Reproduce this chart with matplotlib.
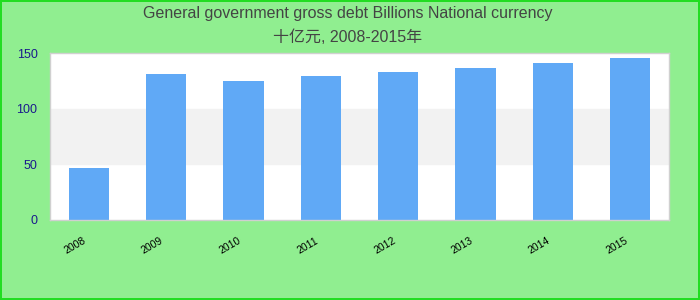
import matplotlib.pyplot as plt
from matplotlib.transforms import ScaledTranslation

years = ["2008", "2009", "2010", "2011", "2012", "2013", "2014", "2015"]
debt = [46.8, 131.4, 125.1, 129.6, 133.2, 136.8, 141.3, 145.8]
y_ticks = [0, 50, 100, 150]

title_line1 = "General government gross debt Billions National currency"
title_line2 = "十亿元, 2008-2015年"

fonts = ["Liberation Sans", "Noto Sans CJK SC", "DejaVu Sans"]

fig = plt.figure(figsize=(7, 3), dpi=100)
fig.patch.set_facecolor("#90ee90")
fig.patch.set_edgecolor("#22dd22")
fig.patch.set_linewidth(1.5)

ax = fig.add_axes([50 / 700, 80 / 300, 619 / 700, 166.7 / 300])
ax.set_facecolor("white")
ax.axhspan(50, 100, color="#f2f2f2", zorder=0)

x = range(len(years))
ax.bar(x, debt, width=0.52, color="#60a9f6", zorder=2)

ax.set_xlim(-0.5, len(years) - 0.5)
ax.set_ylim(0, 150)
ax.set_yticks(y_ticks)
ax.set_yticklabels([str(v) for v in y_ticks], color="#1a1a8c", fontsize=9, family=fonts)
ax.set_xticks(list(x))
ax.set_xticklabels(years, rotation=30, ha="right", rotation_mode="anchor", fontsize=7.5, family=fonts)
ax.tick_params(axis="y", length=0, pad=9)
ax.tick_params(axis="x", length=0, pad=11)
shift = ScaledTranslation(-6 / 100, 0, fig.dpi_scale_trans)
for lbl in ax.get_xticklabels():
    lbl.set_transform(lbl.get_transform() + shift)

for side in ["top", "right", "left", "bottom"]:
    ax.spines[side].set_color("#d0d0d0")
    ax.spines[side].set_linewidth(1)

fig.text(0.497, 0.955, title_line1, ha="center", va="center", fontsize=11.5, color="#444444", family=fonts)
fig.text(0.497, 0.875, title_line2, ha="center", va="center", fontsize=11.5, color="#444444", family=fonts)

fig.savefig("out.png", dpi=100, facecolor=fig.get_facecolor(), edgecolor=fig.get_edgecolor())
